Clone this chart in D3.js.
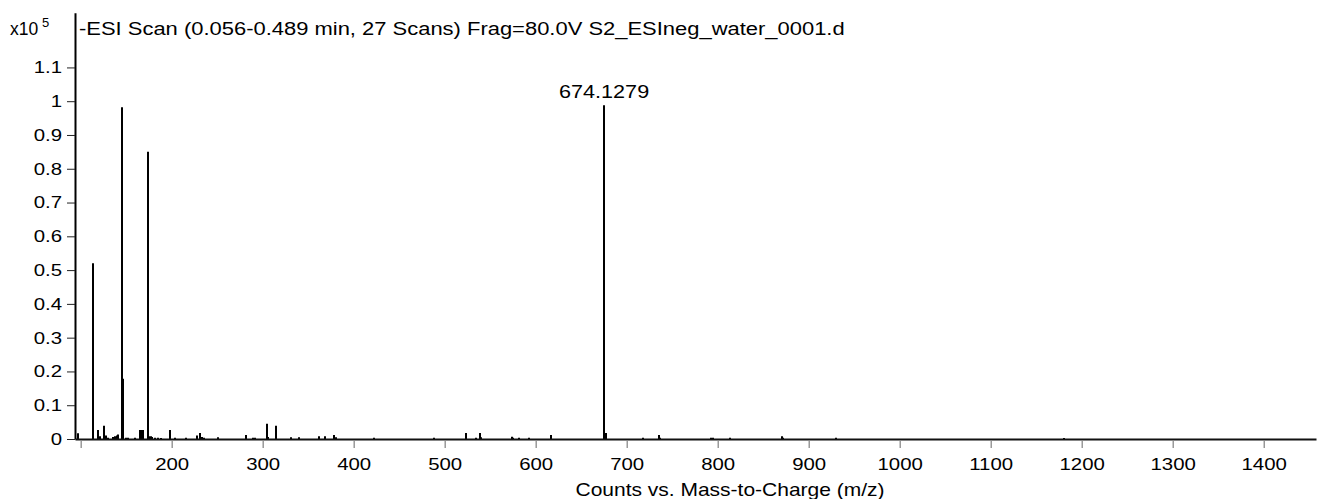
<!DOCTYPE html>
<html>
<head>
<meta charset="utf-8">
<script src="https://cdn.jsdelivr.net/npm/d3@7"></script>
<style>
	body { margin: 0; background: #fff; }
	svg text { font-family: "Liberation Sans", Arial, sans-serif; fill: #000; }
</style>
</head>
<body>
<svg id="chart"></svg>
<script>
// peak list (m/z, counts in units of 1e5)
const mz = [
	95.6, 112.98, 118.3, 119.8, 124.6, 126.4, 128.5, 134.5, 136.5, 138.5, 140.2,
	143.98, 145.0, 145.9, 148.5, 150.5, 158.3, 163.9, 165.2, 166.9, 172.6, 174.5,
	176.0, 177.5, 181.0, 183.5, 187.0, 197.4, 203.0, 214.6, 226.7, 230.3, 232.0,
	235.0, 249.5, 280.6, 288.0, 291.0, 303.3, 305.3, 313.8, 330.0, 338.4, 361.0,
	367.3, 377.6, 379.5, 421.5, 487.4, 522.6, 532.9, 537.3, 539.0, 572.4, 574.5,
	580.8, 591.1, 616.0, 674.1279, 676.2, 717.4, 733.9, 735.0, 791.4, 794.3,
	812.6, 870.1, 871.2, 928.7, 1179.5
];
const counts = [
	0.017, 0.52, 0.027, 0.008, 0.039, 0.010, 0.004, 0.006, 0.008, 0.010, 0.013,
	0.982, 0.13, 0.178, 0.004, 0.004, 0.004, 0.027, 0.027, 0.027, 0.85, 0.008,
	0.008, 0.006, 0.004, 0.004, 0.003, 0.027, 0.004, 0.004, 0.010, 0.018, 0.006,
	0.004, 0.005, 0.012, 0.004, 0.004, 0.045, 0.006, 0.039, 0.005, 0.005, 0.008,
	0.008, 0.012, 0.005, 0.004, 0.004, 0.018, 0.004, 0.018, 0.005, 0.007, 0.004,
	0.004, 0.004, 0.012, 0.988, 0.018, 0.004, 0.012, 0.004, 0.004, 0.004,
	0.004, 0.008, 0.004, 0.004, 0.003
];
const labelledPeaks = [674.1279];

const xTickValues = [100, 200, 300, 400, 500, 600, 700, 800, 900, 1000, 1100, 1200, 1300, 1400];
const yTickValues = [0, 0.1, 0.2, 0.3, 0.4, 0.5, 0.6, 0.7, 0.8, 0.9, 1, 1.1];

const title = '-ESI Scan (0.056-0.489 min, 27 Scans) Frag=80.0V S2_ESIneg_water_0001.d';
const xTitle = 'Counts vs. Mass-to-Charge (m/z)';

const width = 1317;
const height = 499;
const stretch = 1.2;

const svg = d3.select('#chart')
	.attr('width', width)
	.attr('height', height);

const x = d3.scaleLinear()
	.domain([93.8, 1457.5]).range([75, 1316]);
const y = d3.scaleLinear()
	.domain([0, 1.262]).range([439, 12.7]);

// stems
const peaks = mz.map((m, i) => ({ mz: m, v: counts[i] }));
svg.append('g')
	.selectAll('line')
	.data(peaks)
	.enter().append('line')
		.attr('x1', d => Math.round(x(d.mz)) + 1).attr('x2', d => Math.round(x(d.mz)) + 1)
		.attr('y1', y(0)).attr('y2', d => y(d.v))
		.attr('stroke', '#000')
		.attr('stroke-width', 2);

// x axis
const xAxis = svg.append('g')
	.attr('transform', `translate(0,${y(0)})`)
	.call(d3.axisBottom(x)
		.tickValues(xTickValues)
		.tickSize(9)
		.tickSizeOuter(0)
		.tickPadding(10)
		.tickFormat(d => d === 100 ? '' : d));
xAxis.select('.domain').attr('stroke', '#111').attr('stroke-width', 2);
xAxis.selectAll('.tick line').attr('stroke', '#666').attr('y1', 2);
xAxis.selectAll('.tick text')
	.attr('font-size', 17)
	.attr('transform', `scale(${stretch},1)`);

// y axis
const yAxis = svg.append('g')
	.attr('transform', `translate(75,0)`)
	.call(d3.axisLeft(y)
		.tickValues(yTickValues)
		.tickSize(8)
		.tickSizeOuter(0)
		.tickFormat(d3.format('.1~f')));
yAxis.select('.domain').attr('stroke', '#000').attr('stroke-width', 2);
yAxis.selectAll('.tick line').attr('stroke', '#222');
yAxis.selectAll('.tick text')
	.attr('font-size', 17)
	.attr('x', 0)
	.attr('transform', `translate(-13,0) scale(${stretch},1)`);

// peak labels
svg.append('g')
	.selectAll('text')
	.data(peaks.filter(d => labelledPeaks.includes(d.mz)))
	.enter().append('text')
		.attr('transform', d => `translate(${x(d.mz) + 1},${y(d.v) - 7}) scale(${stretch},1)`)
		.attr('text-anchor', 'middle')
		.attr('font-size', 18)
		.text(d => d.mz.toFixed(4));

// header
svg.append('text')
	.attr('x', 10).attr('y', 35)
	.attr('font-size', 17.5)
	.text('x10');
svg.append('text')
	.attr('x', 42).attr('y', 27)
	.attr('font-size', 13)
	.text('5');
svg.append('text')
	.attr('transform', `translate(79,35) scale(${stretch},1)`)
	.attr('font-size', 18.3)
	.text(title);

svg.append('text')
	.attr('transform', `translate(730,496) scale(${stretch},1)`)
	.attr('text-anchor', 'middle')
	.attr('font-size', 17.5)
	.text(xTitle);
</script>
</body>
</html>
